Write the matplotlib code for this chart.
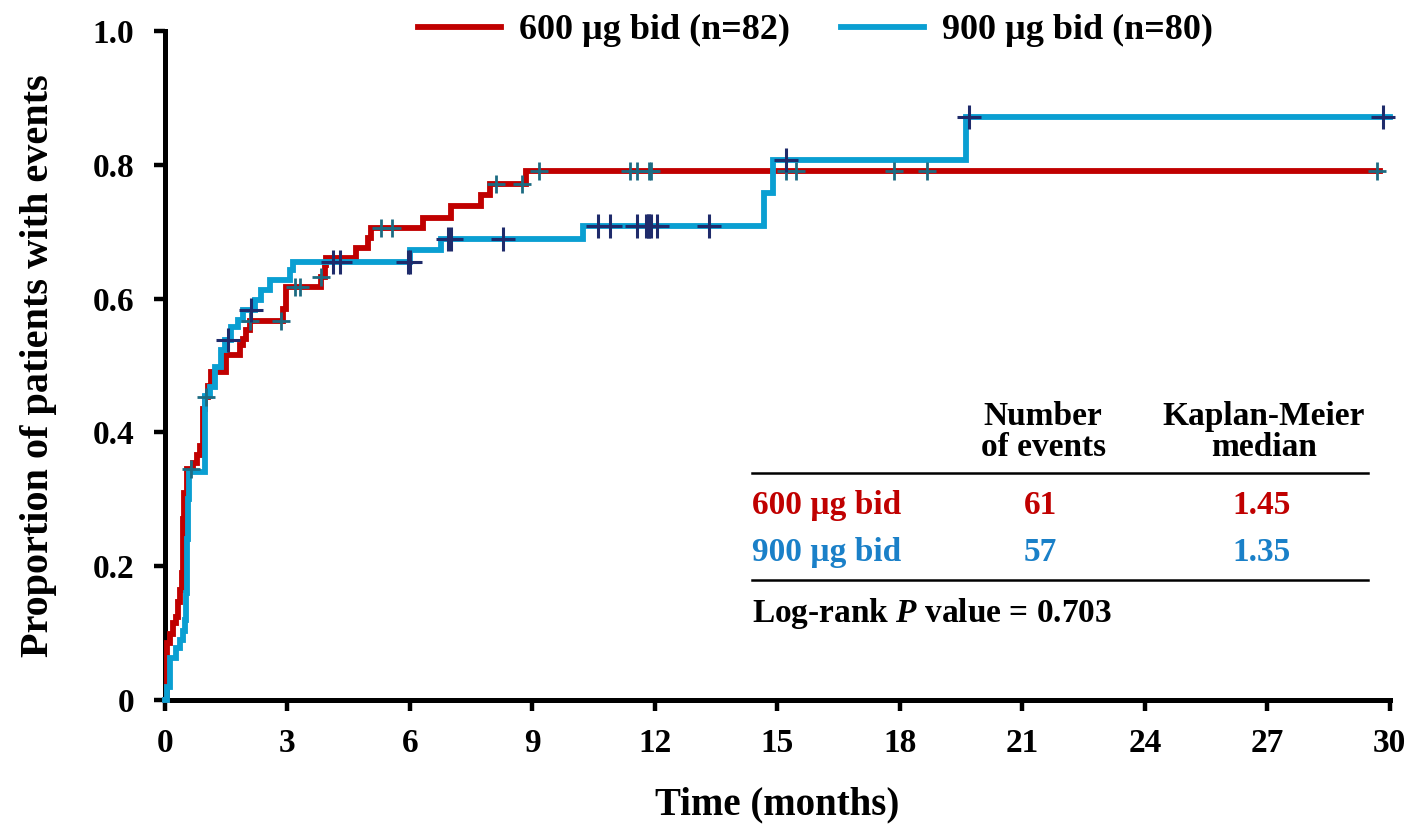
import matplotlib
matplotlib.use('Agg')
import matplotlib.pyplot as plt
import numpy as np

plt.rcParams['font.family'] = ['Liberation Serif', 'DejaVu Serif']
plt.rcParams['font.weight'] = 'bold'
plt.rcParams['mathtext.fontset'] = 'custom'
plt.rcParams['mathtext.it'] = 'Liberation Serif:bold:italic'
plt.rcParams['mathtext.rm'] = 'Liberation Serif:bold'

# cumulative proportion with events, step-post (time in months)
t_600 = [0, 0.05, 0.12, 0.2, 0.27, 0.32, 0.37, 0.42, 0.45, 0.47, 0.55, 0.69, 0.79, 0.86,
         0.93, 0.98, 1.05, 1.13, 1.5, 1.84, 1.91, 1.99, 2.08, 2.89, 2.97, 3.83, 3.92, 3.95,
         4.68, 4.98, 5.05, 6.33, 7.01, 7.73, 7.97, 8.85, 29.75]
p_600 = [0, 0.085, 0.098, 0.115, 0.124, 0.146, 0.165, 0.19, 0.27, 0.31, 0.345, 0.354, 0.366, 0.38,
         0.435, 0.453, 0.47, 0.49, 0.515, 0.53, 0.54, 0.553, 0.567, 0.585, 0.618, 0.633, 0.65, 0.66,
         0.676, 0.69, 0.705, 0.72, 0.738, 0.755, 0.772, 0.791, 0.791]
cens_600 = [0.64, 1.0, 2.09, 2.85, 3.19, 3.3, 3.83, 5.3, 5.55, 8.12, 8.75, 9.15, 11.38, 11.55,
            11.85, 11.9, 15.2, 15.45, 17.86, 18.67, 29.68]

t_900 = [0, 0.05, 0.12, 0.27, 0.37, 0.44, 0.49, 0.52, 0.54, 0.56, 0.6, 0.98, 1.1, 1.23, 1.37,
         1.47, 1.62, 1.79, 1.91, 2.21, 2.35, 2.58, 3.07, 3.14, 6.01, 6.77, 10.25, 14.67, 14.9,
         19.63, 30]
p_900 = [0, 0.02, 0.063, 0.078, 0.09, 0.103, 0.12, 0.16, 0.24, 0.3, 0.341, 0.454, 0.468, 0.498,
         0.523, 0.538, 0.558, 0.568, 0.583, 0.598, 0.613, 0.628, 0.643, 0.655, 0.672, 0.689, 0.709,
         0.758, 0.807, 0.871, 0.871]
cens_900 = [1.55, 2.11, 4.12, 4.29, 5.96, 6.0, 6.94, 7.01, 8.29, 10.6, 10.89, 11.55, 11.78, 11.82,
            11.86, 11.9, 12.04, 13.32, 15.21, 19.7, 29.83]

labels = ['600 µg bid (n=82)', '900 µg bid (n=80)']
arms = ['600 µg bid', '900 µg bid']
n_events = ['61', '57']
km_median = ['1.45', '1.35']
p_text = 'Log-rank $P$ value = 0.703'

red = '#c00000'
blue = '#0a9fd2'
red_txt = '#c00000'
blue_txt = '#1a80c8'
red_cens = '#1c6b82'
blue_cens = '#1f2b6b'


def level_at(t, p, tc):
    idx = np.searchsorted(t, tc, side='right') - 1
    return np.array(p)[idx]


fig = plt.figure(figsize=(14.16, 8.32), dpi=100)
ax = fig.add_axes([0.1165, 0.1587, 0.865, 0.804])

ax.plot(t_600, p_600, drawstyle='steps-post', color=red, lw=4.2, clip_on=False,
        solid_joinstyle='miter', label=labels[0], zorder=3)
ax.plot(t_900, p_900, drawstyle='steps-post', color=blue, lw=4.2, clip_on=False,
        solid_joinstyle='miter', label=labels[1], zorder=3)

ax.plot(cens_600, level_at(t_600, p_600, cens_600), ls='none', marker='+', ms=13,
        mew=2, color=red_cens, zorder=4, clip_on=False)
ax.plot(cens_900, level_at(t_900, p_900, cens_900), ls='none', marker='+', ms=17,
        mew=2.2, color=blue_cens, zorder=4, clip_on=False)

ax.set_xlim(0, 30)
ax.set_ylim(0, 1)
ax.set_xticks(np.arange(0, 31, 3))
ax.set_yticks([0, 0.2, 0.4, 0.6, 0.8, 1.0])
ax.set_yticklabels(['0', '0.2', '0.4', '0.6', '0.8', '1.0'])
for s in ['top', 'right']:
    ax.spines[s].set_visible(False)
for s in ['left', 'bottom']:
    ax.spines[s].set_linewidth(3.6)
ax.tick_params(axis='both', direction='out', length=8, width=3.2, labelsize=24)
ax.tick_params(axis='x', pad=12)
ax.tick_params(axis='y', pad=14)
for lab in ax.get_xticklabels() + ax.get_yticklabels():
    lab.set_fontweight('bold')

ax.set_xlabel('Time (months)', fontsize=28, fontweight='bold', labelpad=20)
ax.set_ylabel('Proportion of patients with events', fontsize=29, fontweight='bold', labelpad=26)

fig.legend(loc='center', bbox_to_anchor=(0.576, 0.963), ncol=2, frameon=False,
           handlelength=2.3, columnspacing=1.4, handletextpad=0.5,
           prop={'weight': 'bold', 'size': 26})

# summary table in the lower right
tx = ax.transAxes
fs = 24
ax.text(0.717, 0.354, 'Number\nof events', transform=tx, ha='center', va='bottom',
        fontsize=fs, fontweight='bold', linespacing=1.0)
ax.text(0.897, 0.354, 'Kaplan-Meier\nmedian', transform=tx, ha='center', va='bottom',
        fontsize=fs, fontweight='bold', linespacing=1.0)
ax.plot([0.479, 0.982], [0.34, 0.34], transform=tx, color='black', lw=1.8, clip_on=False)
ax.plot([0.479, 0.982], [0.18, 0.18], transform=tx, color='black', lw=1.8, clip_on=False)
ys = [0.291, 0.22]
cols = [red_txt, blue_txt]
for i in range(2):
    ax.text(0.479, ys[i], arms[i], transform=tx, ha='left', va='center', fontsize=fs,
            fontweight='bold', color=cols[i])
    ax.text(0.715, ys[i], n_events[i], transform=tx, ha='center', va='center', fontsize=fs,
            fontweight='bold', color=cols[i])
    ax.text(0.895, ys[i], km_median[i], transform=tx, ha='center', va='center', fontsize=fs,
            fontweight='bold', color=cols[i])
ax.text(0.479, 0.13, p_text, transform=tx, ha='left', va='center', fontsize=fs,
        fontweight='bold')

fig.savefig('out.png', dpi=100, facecolor='white')
